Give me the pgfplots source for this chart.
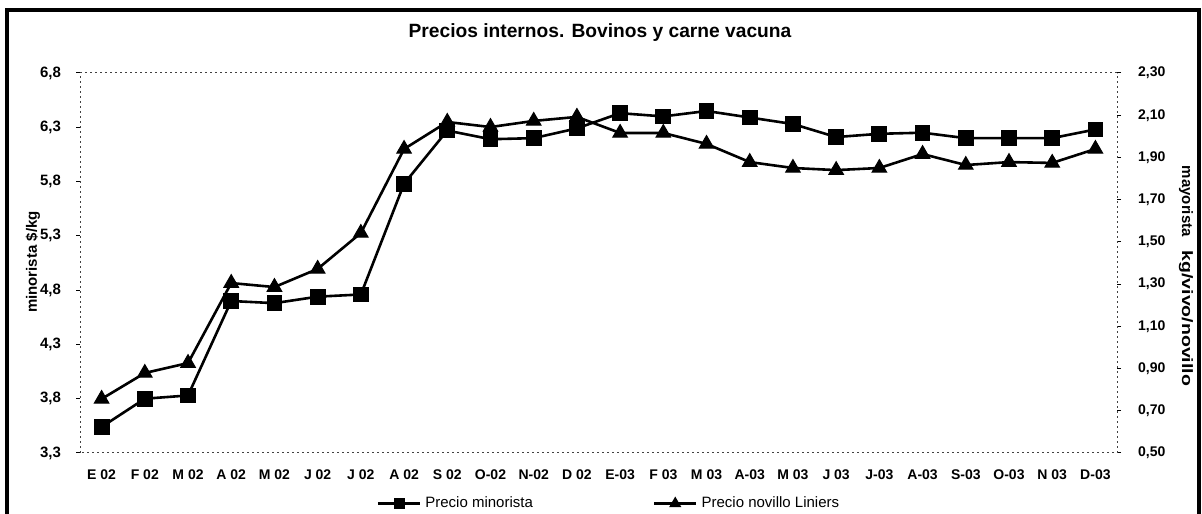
\documentclass[border=0pt]{standalone}
\usepackage{fontspec}
\setmainfont{Liberation Sans}
\usepackage{pgfplots}
\pgfplotsset{compat=1.18}
\begin{document}
\begin{tikzpicture}
\path[use as bounding box] (0,0) rectangle (601pt,256.5pt);
\draw[line width=1.6pt] (3.5pt,-5pt) -- (3.5pt,251.5pt) -- (599.5pt,251.5pt) -- (599.5pt,-5pt);
\node[font=\bfseries\fontsize{9.6}{11}\selectfont] at (300pt,240pt) {Precios internos. Bovinos y carne vacuna};
\begin{axis}[
  scale only axis, width=518.5pt, height=190pt,
  at={(40pt,30pt)}, anchor=south west,
  xmin=-0.5, xmax=23.5, ymin=3.3, ymax=6.8,
  xtick={0,...,23},
  xticklabels={E 02,F 02,M 02,A 02,M 02,J 02,J 02,A 02,S 02,O-02,N-02,D 02,E-03,F 03,M 03,A-03,M 03,J 03,J-03,A-03,S-03,O-03,N 03,D-03},
  ytick={3.3,3.8,4.3,4.8,5.3,5.8,6.3,6.8},
  ytick pos=left,
  xtick style={draw=none},
  ytick style={black, line width=0.5pt, solid},
  tick align=outside, major tick length=2pt,
  axis line style={black!75, line width=0.5pt, dash pattern=on 1pt off 1.5pt},
  ticklabel style={font=\bfseries\fontsize{7}{8}\selectfont},
  yticklabel style={font=\bfseries\fontsize{7.5}{8}\selectfont, xshift=-4pt, /pgf/number format/use comma, /pgf/number format/fixed, /pgf/number format/fixed zerofill, /pgf/number format/precision=1, /pgf/number format/assume math mode=true},
  xticklabel style={yshift=-3pt},
  legend style={at={(0.511,-0.133)}, anchor=center, draw=none, fill=none, font=\fontsize{7.5}{9}\selectfont, /tikz/every even column/.append style={column sep=58pt}},
  legend columns=2,
  legend image code/.code={\draw[mark repeat=2,mark phase=2] plot coordinates {(0cm,0cm)(0.37cm,0cm)(0.74cm,0cm)};},
]
\addplot[black, line width=1.3pt, mark=square*, mark size=3.7pt, mark options={solid, line width=0.5pt}, legend image post style={mark size=2.5pt}] coordinates {
(0,3.54) (1,3.80) (2,3.83) (3,4.70) (4,4.68) (5,4.74) (6,4.76) (7,5.78)
(8,6.27) (9,6.19) (10,6.20) (11,6.29) (12,6.43) (13,6.40) (14,6.45) (15,6.39)
(16,6.33) (17,6.21) (18,6.24) (19,6.25) (20,6.20) (21,6.20) (22,6.20) (23,6.28)};
\addlegendentry{Precio minorista}
\addlegendimage{black, line width=1.3pt, mark=triangle*, mark size=3pt, mark options={solid, line width=0.5pt}}
\addlegendentry{Precio novillo Liniers}
\end{axis}
\begin{axis}[
  scale only axis, width=518.5pt, height=190pt,
  at={(40pt,30pt)}, anchor=south west,
  xmin=-0.5, xmax=23.5, ymin=0.5, ymax=2.3,
  axis y line*=right, axis x line=none,
  ytick={0.5,0.7,0.9,1.1,1.3,1.5,1.7,1.9,2.1,2.3},
  ytick style={black, line width=0.5pt, solid},
  tick align=outside, major tick length=2pt,
  axis line style={black!75, line width=0.5pt, dash pattern=on 1pt off 1.5pt},
  ticklabel style={font=\bfseries\fontsize{7}{8}\selectfont},
  yticklabel style={xshift=5pt, /pgf/number format/use comma, /pgf/number format/fixed, /pgf/number format/fixed zerofill, /pgf/number format/precision=2, /pgf/number format/assume math mode=true},
]
\addplot[black, line width=1.3pt, mark=triangle*, mark size=4.2pt, mark options={solid, line width=0.5pt}] coordinates {
(0,0.756) (1,0.879) (2,0.926) (3,1.305) (4,1.286) (5,1.372) (6,1.542) (7,1.940)
(8,2.068) (9,2.044) (10,2.073) (11,2.092) (12,2.016) (13,2.016) (14,1.964) (15,1.878)
(16,1.850) (17,1.840) (18,1.850) (19,1.916) (20,1.864) (21,1.878) (22,1.874) (23,1.940)};
\end{axis}
\node[rotate=90, font=\bfseries\fontsize{7.5}{9}\selectfont] at (16.5pt,125.5pt) {minorista \$/kg};
\node[rotate=-90, font=\bfseries\fontsize{7.5}{9}\selectfont] at (593pt,118.5pt) {mayorista\hspace{7pt}\scalebox{1.3}[1]{kg/vivo/novillo}};
\end{tikzpicture}
\end{document}
